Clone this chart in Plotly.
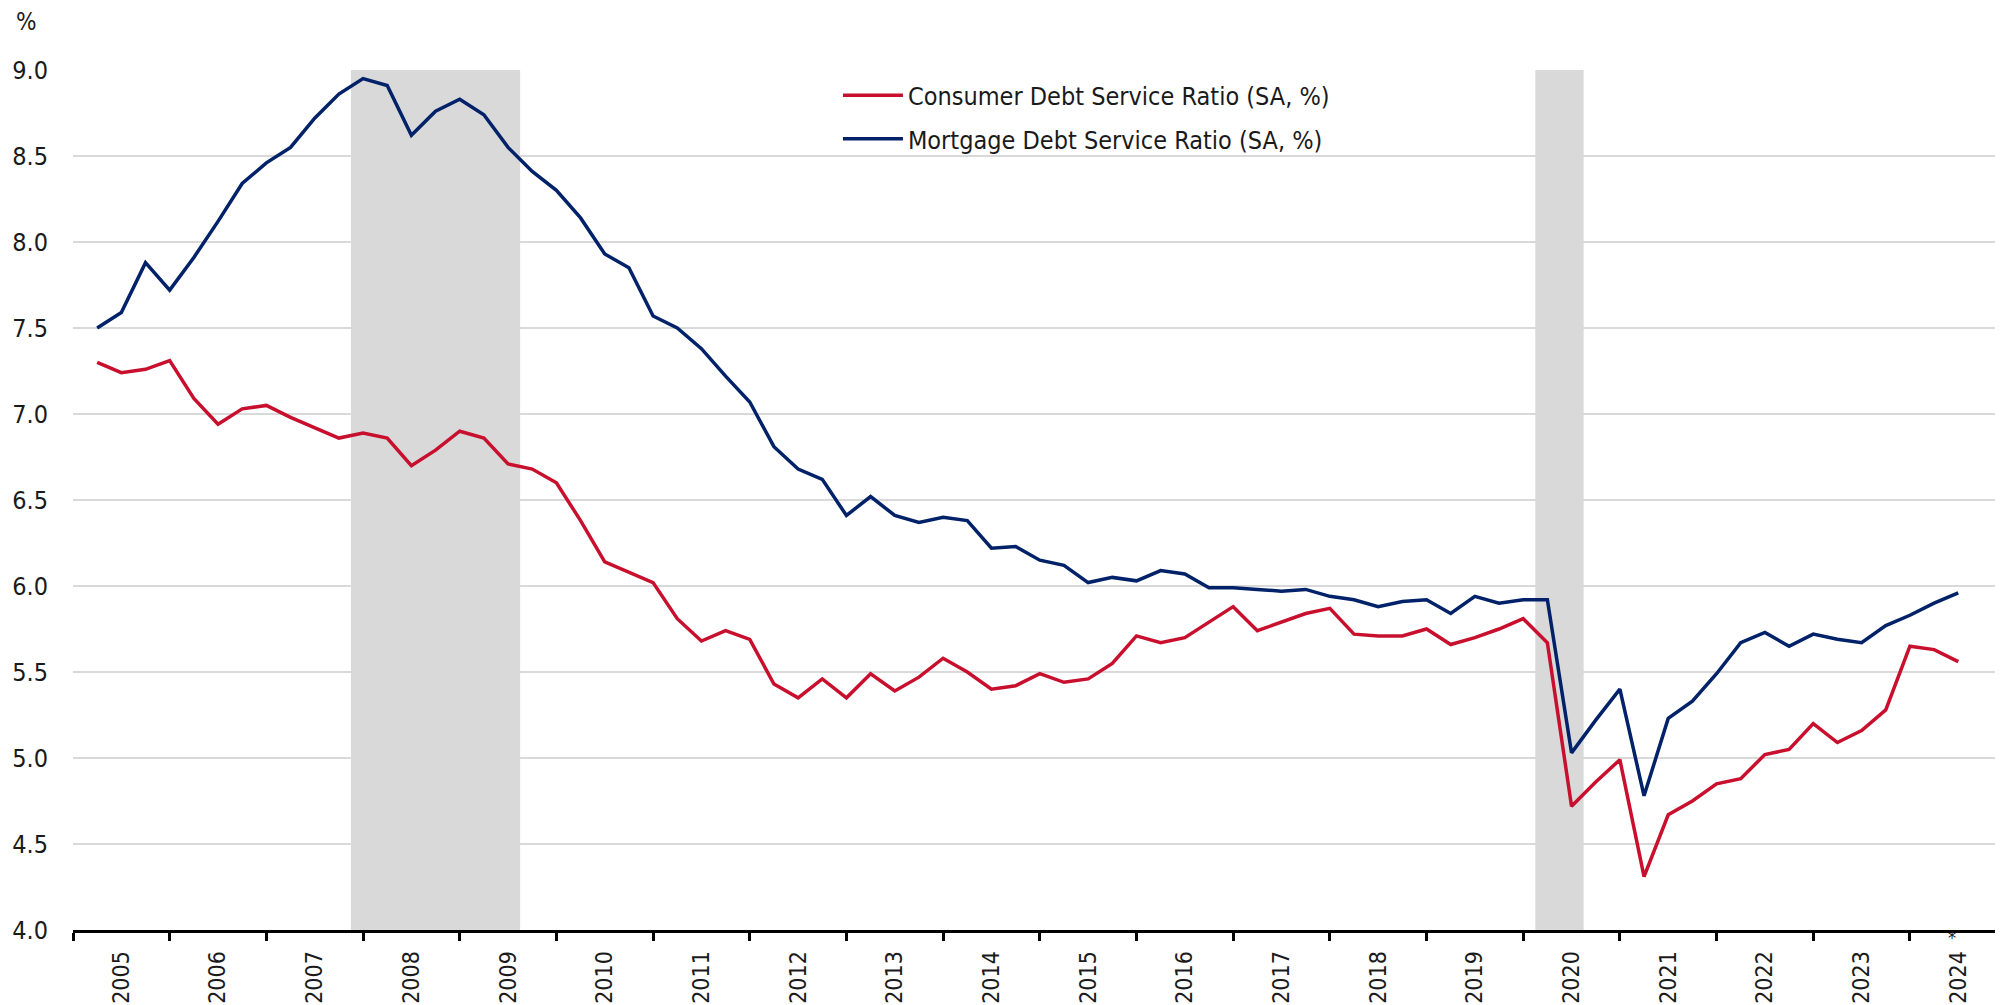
import plotly.graph_objects as go

# ---- data (quarterly, 2005Q1 .. 2024Q2) ----
years = list(range(2005, 2025))
quarters = [f"{y}Q{q}" for y in years for q in range(1, 5)][:78]

consumer_dsr = [
    7.30, 7.24, 7.26, 7.31,
    7.09, 6.94, 7.03, 7.05,
    6.98, 6.92, 6.86, 6.89,
    6.86, 6.70, 6.79, 6.90,
    6.86, 6.71, 6.68, 6.60,
    6.38, 6.14, 6.08, 6.02,
    5.81, 5.68, 5.74, 5.69,
    5.43, 5.35, 5.46, 5.35,
    5.49, 5.39, 5.47, 5.58,
    5.50, 5.40, 5.42, 5.49,
    5.44, 5.46, 5.55, 5.71,
    5.67, 5.70, 5.79, 5.88,
    5.74, 5.79, 5.84, 5.87,
    5.72, 5.71, 5.71, 5.75,
    5.66, 5.70, 5.75, 5.81,
    5.67, 4.72, 4.86, 4.99,
    4.31, 4.67, 4.75, 4.85,
    4.88, 5.02, 5.05, 5.20,
    5.09, 5.16, 5.28, 5.65,
    5.63, 5.56,
]

mortgage_dsr = [
    7.50, 7.59, 7.88, 7.72,
    7.91, 8.12, 8.34, 8.46,
    8.55, 8.72, 8.86, 8.95,
    8.91, 8.62, 8.76, 8.83,
    8.74, 8.55, 8.41, 8.30,
    8.14, 7.93, 7.85, 7.57,
    7.50, 7.38, 7.22, 7.07,
    6.81, 6.68, 6.62, 6.41,
    6.52, 6.41, 6.37, 6.40,
    6.38, 6.22, 6.23, 6.15,
    6.12, 6.02, 6.05, 6.03,
    6.09, 6.07, 5.99, 5.99,
    5.98, 5.97, 5.98, 5.94,
    5.92, 5.88, 5.91, 5.92,
    5.84, 5.94, 5.90, 5.92,
    5.92, 5.03, 5.22, 5.40,
    4.78, 5.23, 5.33, 5.49,
    5.67, 5.73, 5.65, 5.72,
    5.69, 5.67, 5.77, 5.83,
    5.90, 5.96,
]

recessions = [("2007Q4", "2009Q2"), ("2020Q1", "2020Q2")]
year_labels = [str(y) for y in years]

series_names = ["Consumer Debt Service Ratio (SA, %)", "Mortgage Debt Service Ratio (SA, %)"]
RED = "#C8102E"
NAVY = "#012169"


def qpos(q):
    y, n = q.split("Q")
    return int(y) + int(n) * 0.25


xs = [qpos(q) for q in quarters]

FONT = "DejaVu Sans Condensed, Roboto, sans-serif"
TXT = "#1a1a1a"
FS = 25

fig = go.Figure()
fig.add_trace(go.Scatter(x=xs, y=consumer_dsr, mode="lines", name=series_names[0],
                         line=dict(color=RED, width=3.5), legendgroup="a"))
fig.add_trace(go.Scatter(x=xs, y=mortgage_dsr, mode="lines", name=series_names[1],
                         line=dict(color=NAVY, width=3.5), legendgroup="b"))

for a, b in recessions:
    fig.add_shape(type="rect", xref="x", yref="y", x0=qpos(a) - 0.125, x1=qpos(b) + 0.125,
                  y0=4, y1=9, fillcolor="#d9d9d9", line=dict(width=0), layer="between")

fig.add_annotation(text="%", xref="paper", yref="paper", x=-0.024, y=1.056,
                   showarrow=False, font=dict(family=FONT, size=24, color=TXT),
                   xanchor="center", yanchor="middle")
fig.add_annotation(text="*", xref="x", yref="paper", x=2024.44, y=-0.009,
                   showarrow=False, font=dict(family=FONT, size=18, color=TXT),
                   xanchor="center", yanchor="middle")

fig.update_layout(
    width=1996, height=997,
    margin=dict(l=65, r=9, t=62, b=75, autoexpand=False),
    paper_bgcolor="white", plot_bgcolor="white",
    font=dict(family=FONT, size=FS, color=TXT),
    showlegend=True,
    legend=dict(x=0.398, y=0.997,
                xanchor="left", yanchor="top", bgcolor="rgba(0,0,0,0)",
                font=dict(family=FONT, size=FS, color=TXT),
                tracegroupgap=8, itemwidth=60),
    xaxis=dict(
        range=[2005, 2024.88],
        tickmode="array",
        tickvals=[y + 0.5 for y in years],
        ticktext=year_labels,
        ticks="", tickangle=-90,
        ticklabelstandoff=9,
        showgrid=False, zeroline=False,
        showline=True, linecolor="black", linewidth=3,
        tickfont=dict(family=FONT, size=23, color=TXT),
        minor=dict(tickmode="array", tickvals=years, ticks="outside", ticklen=8,
                   tickwidth=2.5, tickcolor="black", showgrid=False),
    ),
    yaxis=dict(
        range=[4, 9], dtick=0.5, tick0=4, tickformat=".1f",
        showgrid=True, gridcolor="#d9d9d9", gridwidth=2,
        zeroline=False, showline=False, ticks="",
        ticklabelstandoff=24,
        tickfont=dict(family=FONT, size=FS, color=TXT),
    ),
)

fig.write_html("out.html")
